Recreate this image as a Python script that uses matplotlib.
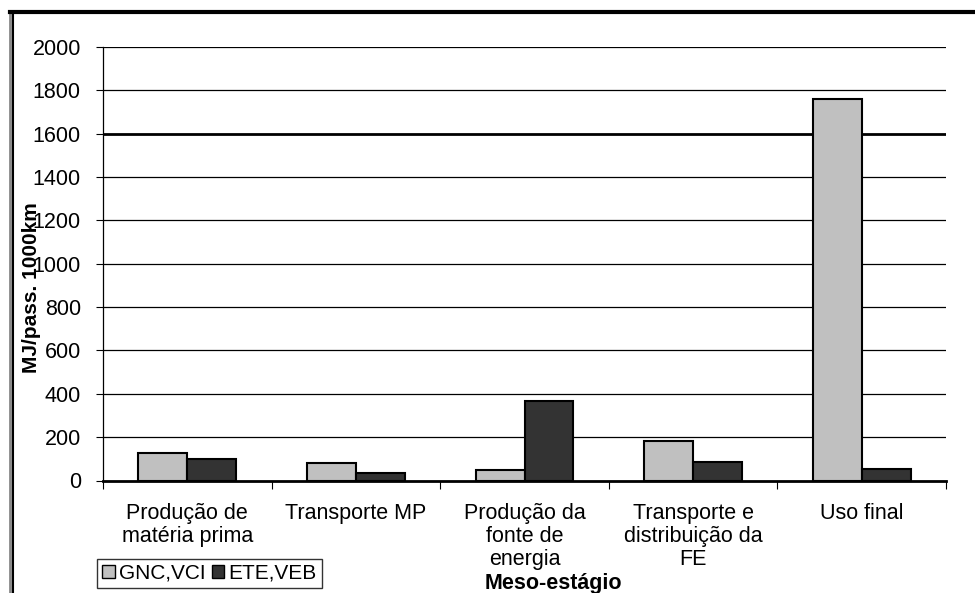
import numpy as np
import matplotlib
matplotlib.use("Agg")
from matplotlib import pyplot as plt
from matplotlib.patches import Patch
from matplotlib.lines import Line2D

plt.rcParams['font.family'] = ['Liberation Sans', 'DejaVu Sans']

categories = ["Produção de\nmatéria prima", "Transporte MP", "Produção da\nfonte de\nenergia",
              "Transporte e\ndistribuição da\nFE", "Uso final"]
gnc_vci = [126, 82, 48, 181, 1760]
ete_veb = [98, 33, 365, 84, 53]
series_names = ["GNC,VCI", "ETE,VEB"]
yticks = [0, 200, 400, 600, 800, 1000, 1200, 1400, 1600, 1800, 2000]

fig = plt.figure(figsize=(9.75, 5.93), dpi=100)
ax = fig.add_axes([103 / 975, 1 - 480.5 / 593, (946 - 103) / 975, (480.5 - 47) / 593])

x = np.arange(len(categories))
w = 0.29
ax.bar(x - w / 2, gnc_vci, w, color="#c0c0c0", edgecolor="black", linewidth=1.5, zorder=3)
ax.bar(x + w / 2, ete_veb, w, color="#333333", edgecolor="black", linewidth=1.5, zorder=3)

ax.set_xlim(-0.5, len(categories) - 0.5)
ax.set_ylim(0, 2000)
ax.set_yticks(yticks)
ax.tick_params(axis='y', labelsize=15.5, length=5, width=0.8, pad=11, colors="black")
for t in yticks[1:]:
    ax.axhline(t, color="black", linewidth=2.0 if t == 1600 else 0.9, zorder=1)

ax.set_xticks(x)
ax.set_xticklabels(categories, fontsize=15.5, linespacing=1.13)
ax.tick_params(axis='x', length=0, pad=16)
ax.set_xticks(np.arange(len(categories) + 1) - 0.5, minor=True)
ax.tick_params(axis='x', which='minor', length=6, width=0.8)

for s in ["top", "right"]:
    ax.spines[s].set_visible(False)
ax.spines["left"].set_linewidth(0.9)
ax.spines["bottom"].set_linewidth(2.0)
ax.spines["bottom"].set_zorder(4)

fig.text(32 / 975, 1 - 288 / 593, "MJ/pass. 1000km", rotation=90, fontsize=15, fontweight="bold",
         ha="center", va="center")
fig.text(553 / 975, 1 - 584 / 593, "Meso-estágio", fontsize=15.5, fontweight="bold",
         ha="center", va="center")

handles = [Patch(facecolor="#c0c0c0", edgecolor="black", linewidth=1.0),
           Patch(facecolor="#333333", edgecolor="black", linewidth=1.0)]
leg = fig.legend(handles, series_names, loc="lower left", bbox_to_anchor=(97 / 975, 1 - 588 / 593),
                 ncol=2, fontsize=15, frameon=True, fancybox=False, handlelength=0.6, handleheight=0.6,
                 handletextpad=0.2, columnspacing=0.3, borderpad=0.25, borderaxespad=0)
leg.get_frame().set_edgecolor("black")
leg.get_frame().set_linewidth(1.0)

# outer chart border
fig.add_artist(Line2D([10 / 975, 10 / 975], [0, 1 - 11 / 593], transform=fig.transFigure,
                      color="#888888", linewidth=2))
fig.add_artist(Line2D([13 / 975, 13 / 975], [0, 1 - 13 / 593], transform=fig.transFigure,
                      color="black", linewidth=1.5))
fig.add_artist(Line2D([10 / 975, 1], [1 - 12 / 593, 1 - 12 / 593], transform=fig.transFigure,
                      color="black", linewidth=3))

fig.savefig("out.png", dpi=100)
